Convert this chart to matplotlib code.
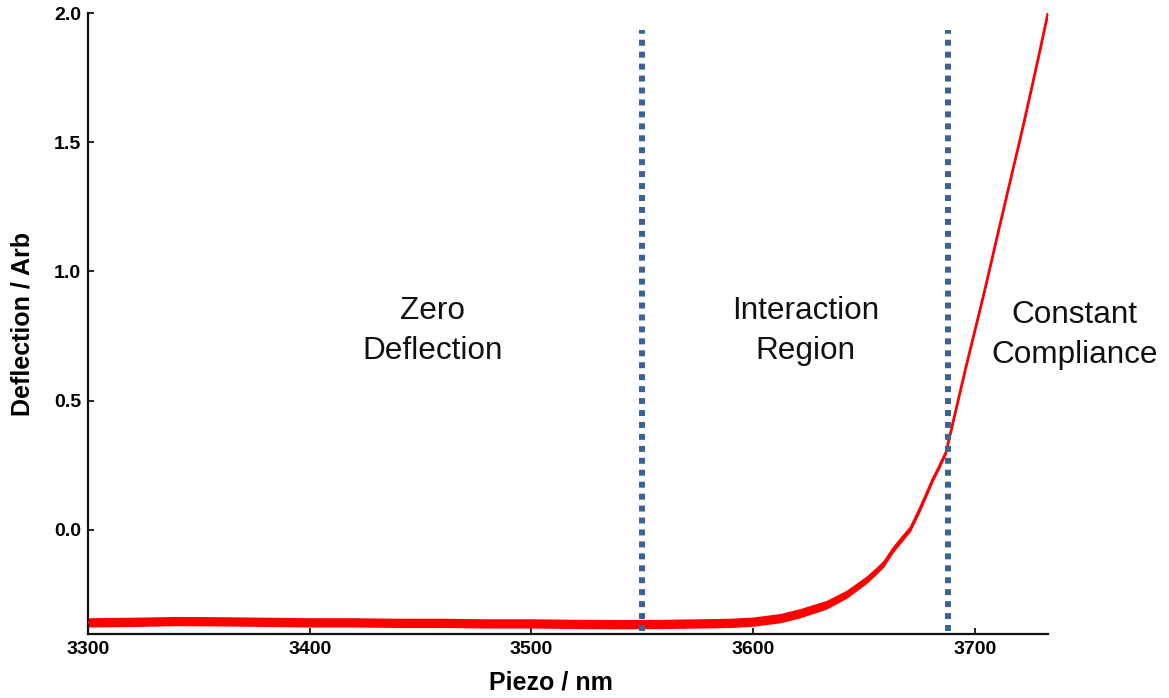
import matplotlib
matplotlib.use("Agg")
import matplotlib.pyplot as plt
import numpy as np

# ---- data ----
piezo_nm = [3300, 3320, 3340, 3360, 3380, 3400, 3420, 3440, 3460, 3480,
            3500, 3520, 3540, 3560, 3576, 3590, 3600, 3612, 3621, 3633,
            3642, 3651, 3656, 3659, 3663, 3666, 3671, 3675, 3678, 3681,
            3684, 3687, 3690, 3693, 3696, 3699, 3702, 3704, 3707, 3709,
            3712, 3715, 3719, 3722, 3725, 3729, 3733]
deflection = [-0.358, -0.356, -0.353, -0.354, -0.356, -0.358, -0.358, -0.360, -0.360, -0.362,
              -0.362, -0.364, -0.365, -0.364, -0.362, -0.360, -0.355, -0.342, -0.323, -0.290,
              -0.250, -0.194, -0.155, -0.129, -0.077, -0.045, 0.006, 0.077, 0.135, 0.194,
              0.245, 0.300, 0.410, 0.520, 0.630, 0.735, 0.840, 0.910, 1.020, 1.095,
              1.205, 1.315, 1.460, 1.570, 1.685, 1.840, 2.000]
noise_halfwidth = [0.018, 0.018, 0.018, 0.018, 0.018, 0.018, 0.018, 0.018, 0.018, 0.018,
                   0.018, 0.018, 0.018, 0.018, 0.018, 0.018, 0.018, 0.018, 0.018, 0.017,
                   0.016, 0.015, 0.014, 0.014, 0.013, 0.013, 0.012, 0.012, 0.011, 0.010,
                   0.009, 0.008, 0.006, 0.005, 0.004, 0.004, 0.004, 0.004, 0.004, 0.004,
                   0.004, 0.004, 0.004, 0.004, 0.004, 0.004, 0.004]

region_boundaries = [3550, 3688]
boundary_top = 1.935
boundary_bottom = -0.39

region_labels = ["Zero\nDeflection", "Interaction\nRegion", "Constant\nCompliance"]
region_label_x = [3455.5, 3623.5, 3745]
region_label_y = [0.77, 0.77, 0.755]

x_ticks = [3300, 3400, 3500, 3600, 3700]
y_ticks = [0.0, 0.5, 1.0, 1.5, 2.0]

# ---- figure ----
plt.rcParams['font.family'] = ['Liberation Sans', 'DejaVu Sans']
W, H = 1169, 698
fig = plt.figure(figsize=(W / 100, H / 100), dpi=100)
ax = fig.add_axes([88 / W, 1 - 634 / H, (1048 - 88) / W, (634 - 13) / H])

x = np.array(piezo_nm, dtype=float)
y = np.array(deflection, dtype=float)
hw = np.array(noise_halfwidth, dtype=float)

ax.fill_between(x, y - hw, y + hw, color='#ff0000', linewidth=0, zorder=2)
ax.plot(x, y, color='#ff0000', linewidth=2.0, zorder=3)

for bx in region_boundaries:
    ax.plot([bx, bx], [boundary_bottom, boundary_top], color='#3a6298',
            linewidth=4.3, linestyle=(0, (1, 1)), dash_capstyle='butt', zorder=4)

for lbl, lx, ly in zip(region_labels, region_label_x, region_label_y):
    ax.text(lx, ly, lbl, ha='center', va='center', fontsize=22.7,
            color='#111111', linespacing=1.45, clip_on=False)

ax.set_xlim(3300, 3733)
ax.set_ylim(-0.403, 2.0)
ax.set_xticks(x_ticks)
ax.set_yticks(y_ticks)
ax.set_xticklabels([str(t) for t in x_ticks], fontweight='bold', fontsize=14)
ax.set_yticklabels([f"{t:.1f}" for t in y_ticks], fontweight='bold', fontsize=14)
ax.tick_params(direction='in', length=4, width=1.2, color='black', pad=5)

for s in ['top', 'right']:
    ax.spines[s].set_visible(False)
for s in ['left', 'bottom']:
    ax.spines[s].set_linewidth(1.6)
    ax.spines[s].set_color('#111111')

ax.set_xlabel("Piezo / nm", fontsize=18, fontweight='bold')
ax.set_ylabel("Deflection / Arb", fontsize=18, fontweight='bold')
ax.xaxis.set_label_coords(0.482, -0.058)
ax.yaxis.set_label_coords(-0.068, 0.5)
ax.yaxis.label.set_va('center')

fig.savefig("out.png", dpi=100)
